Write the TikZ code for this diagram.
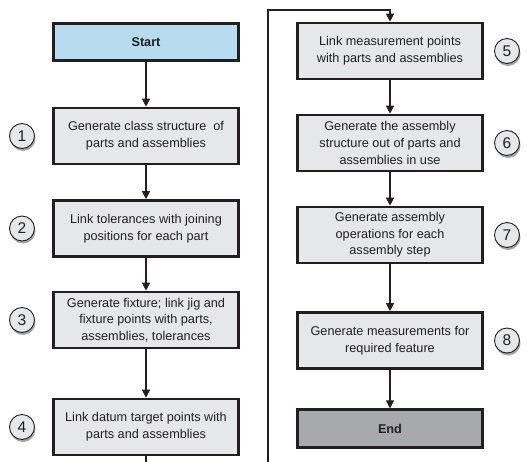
\documentclass[tikz,border=0pt]{standalone}
\usepackage{fontspec}
\setmainfont{Liberation Sans}
\usetikzlibrary{arrows.meta,shadows}
\definecolor{ink}{HTML}{231F20}
\definecolor{startblue}{HTML}{B8DCEF}
\definecolor{stepgray}{HTML}{E6E7E8}
\definecolor{endgray}{HTML}{A7A9AC}
\tikzset{
  box/.style={draw=ink, line width=2.6pt, fill=stepgray, minimum width=185.5pt,
    minimum height=56pt, inner sep=0pt, align=center, text=ink,
    font=\fontsize{12.7}{16.7}\selectfont},
  termbox/.style={box, minimum height=37.5pt, font=\bfseries\fontsize{12.7}{16.7}\selectfont},
  num/.style={circle, draw=ink, line width=0.9pt, fill=stepgray, minimum size=25pt,
    inner sep=0pt, text=ink, font=\fontsize{15.5}{15.5}\selectfont,
    drop shadow={shadow xshift=1pt, shadow yshift=-2.5pt, opacity=0.35, fill=black}},
  flow/.style={draw=ink, line width=1.2pt, -{Triangle[width=8pt,length=8pt]}},
  plain/.style={draw=ink, line width=1.2pt}
}
\begin{document}
\begin{tikzpicture}[x=1pt,y=-1pt]
\useasboundingbox (0,0) rectangle (527,461);
\clip (0,0) rectangle (527,461);
% left column
\node[termbox, fill=startblue] (s) at (146,42) {Start};
\node[box] (b1) at (146,136) {Generate class structure~ of\\parts and assemblies};
\node[box] (b2) at (146,228.5) {Link tolerances with joining\\positions for each part};
\node[box] (b3) at (146,320) {Generate fixture; link jig and\\fixture points with parts,\\assemblies, tolerances};
\node[box] (b4) at (146,427) {Link datum target points with\\parts and assemblies};
% right column
\node[box] (b5) at (390,51) {Link measurement points\\with parts and assemblies};
\node[box] (b6) at (390,143) {Generate the assembly\\structure out of parts and\\assemblies in use};
\node[box] (b7) at (390,235) {Generate assembly\\operations for each\\assembly step};
\node[box] (b8) at (390,340.5) {Generate measurements for\\required feature};
\node[termbox, fill=endgray] (e) at (390,428.5) {End};
% numbers
\node[num] (n1) at (22,136) {1};
\node[num] (n2) at (22,228.5) {2};
\node[num] (n3) at (22,320) {3};
\node[num] (n4) at (22,427) {4};
\node[num] (n5) at (507,51) {5};
\node[num] (n6) at (507,143) {6};
\node[num] (n7) at (507,235) {7};
\node[num] (n8) at (507,340.5) {8};
% connectors
\draw[flow] (s) -- (b1);
\draw[flow] (b1) -- (b2);
\draw[flow] (b2) -- (b3);
\draw[flow] (b3) -- (b4);
\coordinate (c1) at (146,475);
\coordinate (c2) at (268,475);
\coordinate (c3) at (268,10);
\draw[flow] (b4.south) -- (c1) -- (c2) -- (c3) -| (b5.north);
\draw[flow] (b5) -- (b6);
\draw[flow] (b6) -- (b7);
\draw[flow] (b7) -- (b8);
\draw[flow] (b8) -- (e);
\end{tikzpicture}
\end{document}
